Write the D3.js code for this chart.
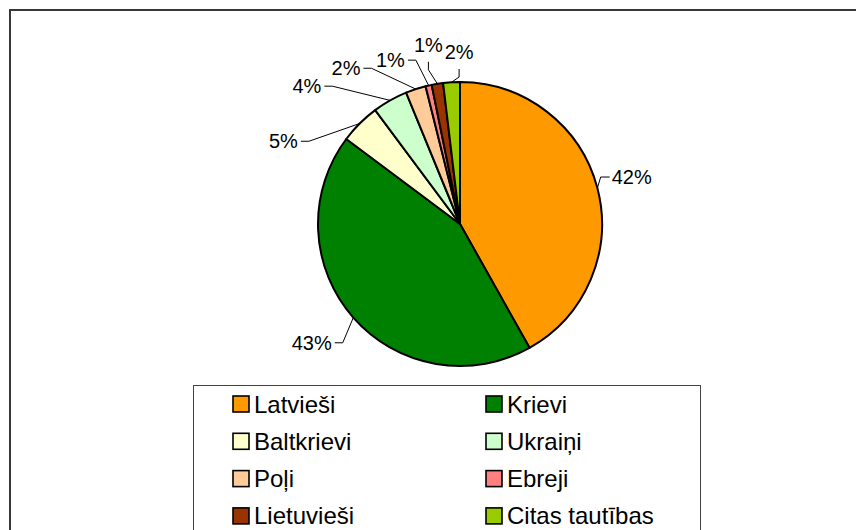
<!DOCTYPE html>
<html>
<head>
<meta charset="utf-8">
<script src="https://cdn.jsdelivr.net/npm/d3@7"></script>
<style>
	body { margin: 0; background: #fff; }
	svg text { font-family: 'Liberation Sans', Arial, sans-serif; fill: #000; }
</style>
</head>
<body>
<div id="chart"></div>
<script>

var categories = ['Latvieši', 'Krievi', 'Baltkrievi', 'Ukraiņi', 'Poļi', 'Ebreji', 'Lietuvieši', 'Citas tautības'];
var shares = [41.9, 43.4, 4.6, 4.0, 2.3, 0.7, 1.3, 1.9];
var colors = ['#FF9900', '#008000', '#FFFFCC', '#CCFFCC', '#FFCC99', '#FF8080', '#993300', '#99CC00'];

// where each percent label sits: angle (deg, clockwise from top), distance from centre, side the leader leaves from
var labelAngles = [74.7, 231.3, 295.1, 312.0, 323.8, 337.0, 350.0, 359.7];
var labelRadii = [178, 190, 195, 206, 193, 178, 182, 172];
var labelSides = ['left', 'right', 'right', 'right', 'right', 'right', 'bottom', 'bottom'];

var width = 856, height = 530;
var cx = 460, cy = 224, radius = 142;

var svg = d3.select('#chart').append('svg')
		.attr('width', width)
		.attr('height', height);

// outer frame, runs off the right and bottom edges
svg.append('rect')
		.attr('x', 10).attr('y', 10)
		.attr('width', 900).attr('height', 600)
		.attr('fill', 'none')
		.attr('stroke', '#383838')
		.attr('stroke-width', 2);

var total = d3.sum(shares);
var rows = categories.map(function(c, i) { return {name: c, value: shares[i], color: colors[i], index: i}; });

var pie = d3.pie().sort(null).value(function(d) { return d.value; });
var arc = d3.arc().innerRadius(0).outerRadius(radius);
var edgeArc = d3.arc().innerRadius(radius).outerRadius(radius);

var g = svg.append('g').attr('transform', 'translate(' + cx + ',' + cy + ')');
var slices = pie(rows);

g.selectAll('path.slice').data(slices).enter().append('path')
		.attr('class', 'slice')
		.attr('d', arc)
		.attr('fill', function(d) { return d.data.color; })
		.attr('stroke', '#000')
		.attr('stroke-width', 2)
		.attr('stroke-linejoin', 'round');

/**
 * Percent labels with leader lines
 */
var fontSize = 20;
slices.forEach(function(d, i) {
	var a = labelAngles[i] * Math.PI / 180;
	var tx = labelRadii[i] * Math.sin(a);
	var ty = -labelRadii[i] * Math.cos(a);
	var txt = Math.round(d.data.value / total * 100) + '%';

	var t = g.append('text')
			.attr('x', tx).attr('y', ty)
			.attr('text-anchor', 'middle')
			.attr('dominant-baseline', 'central')
			.style('font-size', fontSize + 'px')
			.text(txt);
	var w = t.node().getComputedTextLength();

	var edge = edgeArc.centroid(d);
	var pts;
	if (labelSides[i] === 'left') {
		var sx = tx - w / 2 - 2;
		pts = [[sx, ty], [sx - 9, ty], edge];
	} else if (labelSides[i] === 'right') {
		var sx2 = tx + w / 2 + 3;
		pts = [[sx2, ty], [sx2 + 8, ty], edge];
	} else {
		pts = [[tx, ty + 17], [tx, ty + 25], edge];
	}

	g.append('path')
			.attr('d', d3.line()(pts))
			.attr('fill', 'none')
			.attr('stroke', '#000')
			.attr('stroke-width', 1);
});

/**
 * Legend
 */
var legend = svg.append('g');
legend.append('rect')
		.attr('x', 193.5).attr('y', 385.5)
		.attr('width', 507).attr('height', 200)
		.attr('fill', '#fff')
		.attr('stroke', '#444')
		.attr('stroke-width', 1);

var colX = [233, 486];
var rowY0 = 404, rowStep = 37.3, sw = 16;

var items = legend.selectAll('g.item').data(rows).enter().append('g')
		.attr('class', 'item')
		.attr('transform', function(d) {
			return 'translate(' + colX[d.index % 2] + ',' + (rowY0 + Math.floor(d.index / 2) * rowStep) + ')';
		});

items.append('rect')
		.attr('x', 0).attr('y', -sw / 2)
		.attr('width', sw).attr('height', sw)
		.attr('fill', function(d) { return d.color; })
		.attr('stroke', '#000')
		.attr('stroke-width', 1.6);

items.append('text')
		.attr('x', 21).attr('y', 0)
		.attr('dominant-baseline', 'central')
		.style('font-size', '24px')
		.text(function(d) { return d.name; });

</script>
</body>
</html>
